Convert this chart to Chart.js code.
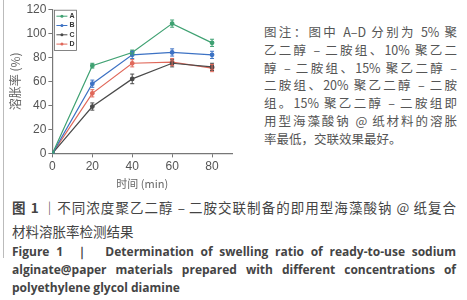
<!DOCTYPE html>
<html>
<head>
<meta charset="utf-8">
<script src="https://cdn.jsdelivr.net/npm/chart.js@4"></script>
<style>
body { margin:0; width:467px; height:300px; background:#fff; position:relative; overflow:hidden; font-family:"Noto Sans CJK SC", sans-serif; }
#side { position:absolute; left:3px; top:0; width:1px; height:258px; background:#bbb; }
#box { position:absolute; left:0; top:0; width:240px; height:190px; }
#note { position:absolute; left:264px; top:23px; width:193px; font-size:12.5px; line-height:17.8px; color:#555; }
#note div { text-align:justify; text-align-last:justify; white-space:nowrap; }
#note div.last { text-align-last:left; }
#cap { position:absolute; left:12px; top:195px; width:444px; color:#444; }
#cap .zh { font-size:13.5px; line-height:24px; }
#cap .zh .l1 { text-align:justify; text-align-last:justify; white-space:nowrap; }
#cap .en { font-family:"Open Sans", sans-serif; font-weight:bold; font-size:12px; line-height:18px; text-align:justify; text-align-last:left; }
</style>
</head>
<body>
<div id="side"></div>
<div id="box"><canvas id="chart"></canvas></div>
<div id="note">
<div>图注：图中 A–D 分别为 5% 聚</div>
<div>乙二醇 – 二胺组、10% 聚乙二</div>
<div>醇 – 二胺组、15% 聚乙二醇 –</div>
<div>二胺组、20% 聚乙二醇 – 二胺</div>
<div>组。15% 聚乙二醇 – 二胺组即</div>
<div>用型海藻酸钠 @ 纸材料的溶胀</div>
<div class="last">率最低，交联效果最好。</div>
</div>
<div id="cap">
<div class="zh"><div class="l1"><b>图 1</b> ｜不同浓度聚乙二醇 – 二胺交联制备的即用型海藻酸钠 @ 纸复合</div><div>材料溶胀率检测结果</div></div>
<div class="en">Figure 1 &nbsp;｜&nbsp; Determination of swelling ratio of ready-to-use sodium alginate@paper materials prepared with different concentrations of polyethylene glycol diamine</div>
</div>
<script>
var times = [0, 20, 40, 60, 80];
var seriesNames = ['A', 'B', 'C', 'D'];
var valuesA = [0, 73, 84, 108, 92];
var valuesB = [0, 58, 82, 84, 82];
var valuesC = [0, 39, 62, 75, 72];
var valuesD = [0, 50, 75, 76, 71];
var errA = [0, 2, 2, 3, 3];
var errB = [0, 3, 3, 3, 3];
var errC = [0, 3, 4, 3, 3];
var errD = [0, 3, 3, 3, 3];
var colors = ['#3fa172', '#3d72c4', '#4a4a4a', '#e0685a'];

var allValues = [valuesA, valuesB, valuesC, valuesD];
var allErrs = [errA, errB, errC, errD];

function makeSet(i) {
    var pts = [];
    for (var k = 0; k < times.length; k++) pts.push({x: times[k], y: allValues[i][k]});
    return {
        label: seriesNames[i],
        data: pts,
        errors: allErrs[i],
        borderColor: colors[i],
        backgroundColor: colors[i],
        borderWidth: 1.2,
        pointRadius: 1.8,
        pointStyle: 'circle',
        tension: 0
    };
}

// error bars drawn on top of the lines
var errorBars = {
    id: 'errorBars',
    afterDatasetsDraw: function(chart) {
        var ctx = chart.ctx;
        var yScale = chart.scales.y;
        chart.data.datasets.forEach(function(ds, i) {
            var meta = chart.getDatasetMeta(i);
            ctx.save();
            ctx.strokeStyle = ds.borderColor;
            ctx.lineWidth = 1;
            meta.data.forEach(function(pt, k) {
                var e = ds.errors[k];
                if (!e) return;
                var v = ds.data[k].y;
                var y1 = yScale.getPixelForValue(v - e);
                var y2 = yScale.getPixelForValue(v + e);
                ctx.beginPath();
                ctx.moveTo(pt.x, y1); ctx.lineTo(pt.x, y2);
                ctx.moveTo(pt.x - 2, y1); ctx.lineTo(pt.x + 2, y1);
                ctx.moveTo(pt.x - 2, y2); ctx.lineTo(pt.x + 2, y2);
                ctx.stroke();
            });
            ctx.restore();
        });
    }
};

// small boxed legend in the top-left corner of the plot
var boxLegend = {
    id: 'boxLegend',
    afterDraw: function(chart) {
        var ctx = chart.ctx;
        var area = chart.chartArea;
        var x0 = area.left + 2, y0 = area.top + 1;
        var rowH = 9.3;
        var n = chart.data.datasets.length;
        ctx.save();
        ctx.fillStyle = '#fff';
        ctx.fillRect(x0, y0, 22, n * rowH + 3);
        ctx.strokeStyle = '#666';
        ctx.lineWidth = 0.8;
        ctx.strokeRect(x0, y0, 22, n * rowH + 3);
        ctx.font = 'bold 7px "Liberation Sans"';
        ctx.textBaseline = 'middle';
        chart.data.datasets.forEach(function(ds, i) {
            var yy = y0 + 6 + i * rowH;
            ctx.strokeStyle = ds.borderColor;
            ctx.lineWidth = 1;
            ctx.beginPath(); ctx.moveTo(x0 + 2, yy); ctx.lineTo(x0 + 13, yy); ctx.stroke();
            ctx.fillStyle = ds.borderColor;
            ctx.beginPath(); ctx.arc(x0 + 7.5, yy, 1.5, 0, Math.PI * 2); ctx.fill();
            ctx.fillStyle = '#333';
            ctx.fillText(ds.label, x0 + 15, yy);
        });
        ctx.restore();
    }
};

var tickFont = {family: '"Liberation Sans", sans-serif', size: 12};

new Chart(document.getElementById('chart'), {
    type: 'line',
    data: { datasets: [makeSet(0), makeSet(1), makeSet(2), makeSet(3)] },
    options: {
        responsive: true,
        maintainAspectRatio: false,
        animation: false,
        layout: { padding: { top: 8, right: 8, left: 8, bottom: 0 } },
        plugins: { legend: { display: false }, tooltip: { enabled: false } },
        scales: {
            x: {
                type: 'linear', min: 0, max: 90,
                ticks: { stepSize: 20, includeBounds: false, color: '#555', font: tickFont, padding: 2 },
                grid: { drawOnChartArea: false, drawTicks: true, tickLength: 4, color: '#777' },
                border: { color: '#777', width: 1.2 },
                title: { display: true, text: '时间 (min)', color: '#666', font: {family: '"Noto Sans CJK SC"', size: 11}, padding: {top: 1, bottom: 0} }
            },
            y: {
                min: 0, max: 120,
                ticks: { stepSize: 20, color: '#555', font: tickFont, padding: 2 },
                grid: { drawOnChartArea: false, drawTicks: true, tickLength: 4, color: '#777' },
                border: { color: '#777', width: 1.2 },
                title: { display: true, text: '溶胀率 (%)', color: '#666', font: {family: '"Noto Sans CJK SC"', size: 12}, padding: {top: 0, bottom: 2} }
            }
        }
    },
    plugins: [errorBars, boxLegend]
});
</script>
</body>
</html>
